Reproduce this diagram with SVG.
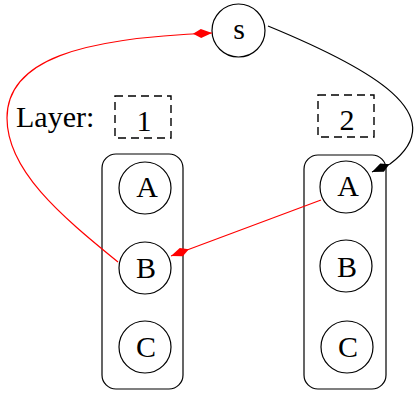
<svg xmlns="http://www.w3.org/2000/svg" width="415" height="396" viewBox="0 0 415 396">
<style>
.t{font-family:"Liberation Serif",serif;font-size:30px;fill:#000}
.c{text-anchor:middle}
.n{fill:#fff;stroke:#000;stroke-width:1.2}
.box{fill:none;stroke:#000;stroke-width:1.2}
.dash{fill:none;stroke:#000;stroke-width:1.4;stroke-dasharray:8 5}
.e{fill:none;stroke-width:1.2}
</style>
<defs>
<marker id="dr" viewBox="0 -6 20 12" refX="19" refY="0" markerWidth="20" markerHeight="12" markerUnits="userSpaceOnUse" orient="auto">
<path d="M0,0 L8,-4.5 L19,0 L8,4.5 Z" fill="#f00"/>
</marker>
<marker id="dk" viewBox="0 -6 20 12" refX="19" refY="0" markerWidth="20" markerHeight="12" markerUnits="userSpaceOnUse" orient="auto">
<path d="M0,0 L8,-4.5 L19,0 L8,4.5 Z" fill="#000"/>
</marker>
</defs>
<g id="labels">
<text class="t" x="16" y="127">Layer:</text>
</g>
<g id="layer1">
<rect class="dash" x="115" y="96" width="56" height="42"/>
<text class="t c" x="144" y="131">1</text>
</g>
<g id="layer2">
<rect class="dash" x="318" y="95" width="56" height="42"/>
<text class="t c" x="347" y="130">2</text>
</g>
<g id="col1"><rect class="box" x="102" y="154" width="81" height="235" rx="14"/></g>
<g id="col2"><rect class="box" x="304" y="155" width="82" height="234" rx="14"/></g>
<g id="s"><circle class="n" cx="238.5" cy="30.5" r="26.5"/><text class="t c" x="239" y="39">s</text></g>
<g id="A1"><circle class="n" cx="145" cy="188" r="26"/><text class="t c" x="147" y="197">A</text></g>
<g id="B1"><circle class="n" cx="145" cy="268" r="26"/><text class="t c" x="146" y="278">B</text></g>
<g id="C1"><circle class="n" cx="145" cy="347" r="26"/><text class="t c" x="146" y="357">C</text></g>
<g id="A2"><circle class="n" cx="346" cy="187" r="26"/><text class="t c" x="348" y="196">A</text></g>
<g id="B2"><circle class="n" cx="346" cy="266" r="26"/><text class="t c" x="347" y="277">B</text></g>
<g id="C2"><circle class="n" cx="347" cy="347" r="26"/><text class="t c" x="348" y="357">C</text></g>
<g id="connectors">
<path class="e" stroke="#000" d="M268,26 C370,68 455,115 390,164 L372,172" marker-end="url(#dk)"/>
<path class="e" stroke="#f00" d="M321,200 L171,256" marker-end="url(#dr)"/>
<path class="e" stroke="#f00" d="M118,262 C60,215 7,170 7,118 C7,60 80,38 212,33" marker-end="url(#dr)"/>
</g>
</svg>
